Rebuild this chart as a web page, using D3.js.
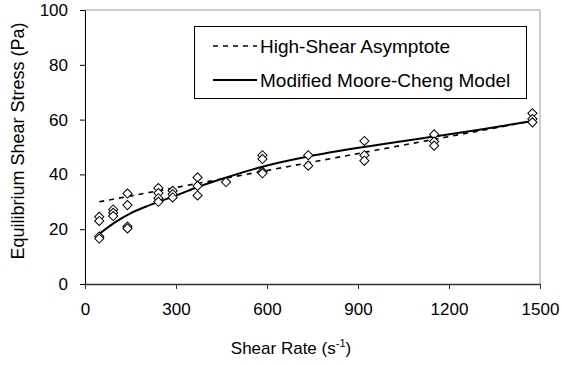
<!DOCTYPE html>
<html>
<head>
<meta charset="utf-8">
<script src="https://cdn.jsdelivr.net/npm/d3@7"></script>
<style>
	body{margin:0;background:#fff;}
	svg{display:block;font-family:Arial,"Liberation Sans",sans-serif;}
</style>
</head>
<body>
<div id="chart"></div>
<script>
// measured points: shear rate (1/s) and equilibrium shear stress (Pa)
let rates = [47,47,47,47, 93,93,93, 140,140,140,140, 242,242,242,242, 289,289,289, 371,371,371, 465, 585,585,585,585, 736,736, 921,921,921, 1151,1151,1151, 1475,1475,1475]
let stress = [24.5,23,17.3,16.6, 27.2,26,24.8, 33,28.8,21,20.3, 35,33.2,31.3,30, 34,32.8,31.6, 38.9,35.8,32.3, 37.2, 47,45.6,41,40.4, 47,43.2, 52.2,47,45, 54.6,52,50.5, 62.3,60.2,59]

// high-shear asymptote (straight line)
let asymRates = [47,1475]
let asymStress = [30,59.5]

// modified Moore-Cheng model curve
let modelRates = [47,100,150,200,250,300,370,450,585,740,920,1040,1150,1300,1475]
let modelStress = [18.3,22.6,25.8,28.2,30.3,32.3,35.3,38.3,42.8,46.6,50,52,53.8,56.3,59.5]

let xTicks = [0,300,600,900,1200,1500]
let yTicks = [0,20,40,60,80,100]

let legendLabels = ['High-Shear Asymptote','Modified Moore-Cheng Model']

function init(){
	let width = 562, height = 365
	let left = 85, right = 540, top = 10, bottom = 284

	let svg = d3.select('#chart').append('svg').attr('width',width).attr('height',height)

	let x = d3.scaleLinear().domain([0,1500]).range([left,right])
	let y = d3.scaleLinear().domain([0,100]).range([bottom,top])

	// plot area border (top and right, grey)
	svg.append('path')
		.attr('d','M'+left+','+top+'H'+right+'V'+bottom)
		.attr('fill','none')
		.attr('stroke','#999')
		.attr('stroke-width',1)

	let xAxis = svg.append('g')
		.attr('transform','translate(0,'+bottom+')')
		.call(d3.axisBottom(x).tickValues(xTicks).tickFormat(d3.format('d')).tickSize(5).tickPadding(14).tickSizeOuter(0))
	xAxis.select('.domain').attr('stroke','#333').attr('stroke-width',1.5)
	xAxis.selectAll('.tick line').attr('stroke','#333')
	xAxis.selectAll('text').attr('font-size',17).attr('fill','#000').attr('font-family','Arial,"Liberation Sans",sans-serif')

	let yAxis = svg.append('g')
		.attr('transform','translate('+left+',0)')
		.call(d3.axisLeft(y).tickValues(yTicks).tickSize(5).tickPadding(12).tickSizeOuter(0))
	yAxis.select('.domain').attr('stroke','#000')
	yAxis.selectAll('.tick line').attr('stroke','#000')
	yAxis.selectAll('text').attr('font-size',17).attr('fill','#000').attr('font-family','Arial,"Liberation Sans",sans-serif')

	// axis titles
	let xTitle = svg.append('text')
		.attr('x',291).attr('y',354)
		.attr('text-anchor','middle')
		.attr('font-size',17)
	xTitle.append('tspan').text('Shear Rate (s')
	xTitle.append('tspan').attr('dy',-7).attr('font-size',11).text('-1')
	xTitle.append('tspan').attr('dy',7).text(')')

	svg.append('text')
		.attr('transform','translate(24,141) rotate(-90)')
		.attr('text-anchor','middle')
		.attr('font-size',18)
		.text('Equilibrium Shear Stress (Pa)')

	let line = d3.line().x(function(d){return x(d[0])}).y(function(d){return y(d[1])})

	// asymptote
	let asymData = asymRates.map(function(r,i){return [r,asymStress[i]]})
	svg.append('path')
		.attr('d',line(asymData))
		.attr('fill','none')
		.attr('stroke','#000')
		.attr('stroke-width',1.6)
		.attr('stroke-dasharray','5,5')

	// model curve
	let modelData = modelRates.map(function(r,i){return [r,modelStress[i]]})
	svg.append('path')
		.attr('d',line.curve(d3.curveMonotoneX)(modelData))
		.attr('fill','none')
		.attr('stroke','#000')
		.attr('stroke-width',2)

	// diamonds
	let diamond = d3.symbol().type(d3.symbolSquare).size(42)
	svg.append('g').selectAll('path')
		.data(rates.map(function(r,i){return [r,stress[i]]}))
		.enter().append('path')
		.attr('d',diamond)
		.attr('transform',function(d){return 'translate('+x(d[0])+','+y(d[1])+') rotate(45)'})
		.attr('fill','#fff')
		.attr('stroke','#000')
		.attr('stroke-width',1)

	// legend
	let legend = svg.append('g')
	legend.append('rect')
		.attr('x',194.5).attr('y',26.5).attr('width',332).attr('height',72)
		.attr('fill','#fff').attr('stroke','#000').attr('stroke-width',1)

	let rowY = [46,80]
	legendLabels.forEach(function(label,i){
		let l = legend.append('line')
			.attr('x1',213).attr('x2',257)
			.attr('y1',rowY[i]).attr('y2',rowY[i])
			.attr('stroke','#000')
		if(i==0){
			l.attr('stroke-width',1.6).attr('stroke-dasharray','5,5')
		} else {
			l.attr('stroke-width',2)
		}
		legend.append('text')
			.attr('x',260).attr('y',rowY[i]+7)
			.attr('font-size',19)
			.text(label)
	})
}

init();
</script>
</body>
</html>
